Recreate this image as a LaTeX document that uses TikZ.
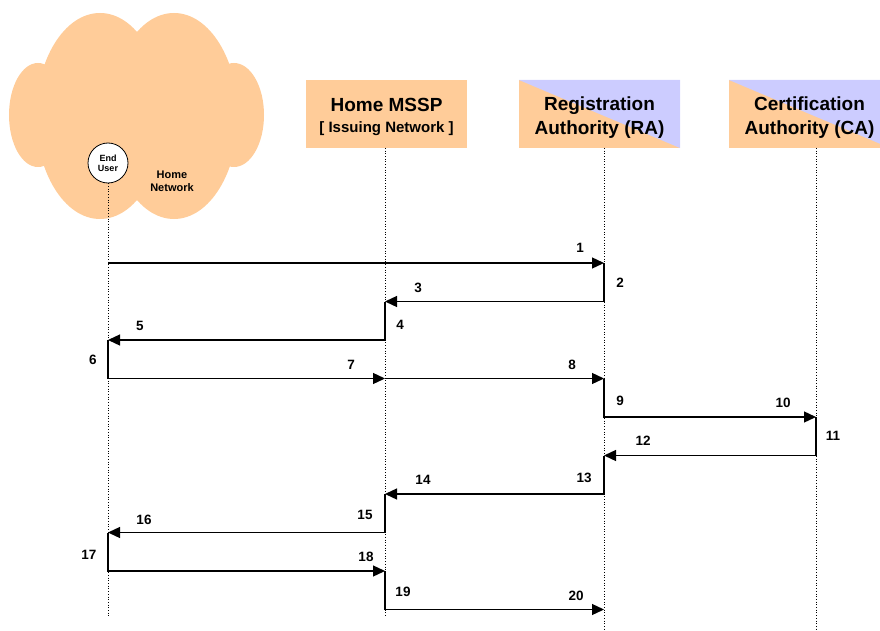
\documentclass[tikz,border=0pt]{standalone}
\usepackage{fontspec}
\setmainfont{Liberation Sans}
\usetikzlibrary{arrows.meta}
\definecolor{peach}{HTML}{FFCC99}
\definecolor{lavender}{HTML}{CCCCFF}

\begin{document}
\begin{tikzpicture}[x=1pt,y=-1pt,
  msg/.style={line width=1.3pt, line join=miter, -{Triangle[length=12pt,width=11pt]}},
  life/.style={dotted, line width=0.7pt},
  num/.style={font=\fontsize{13.5}{14}\selectfont\bfseries, inner sep=0pt},
  hdr/.style={minimum width=161pt, minimum height=68pt, inner sep=0pt},
  hdrtext/.style={align=center, inner sep=0pt, font=\fontsize{19}{24}\selectfont\bfseries},
  plainbox/.style={hdr, fill=peach},
  splitbox/.style={hdr, fill=peach,
    path picture={\fill[lavender] (path picture bounding box.north west)
      -- (path picture bounding box.north east)
      -- (path picture bounding box.south east) -- cycle;}},
]
\useasboundingbox (0,0) rectangle (880,631);

% home network cloud
\fill[peach] (100,116) ellipse [x radius=64, y radius=103];
\fill[peach] (174,116) ellipse [x radius=64, y radius=103];
\fill[peach] (38,115) ellipse [x radius=29, y radius=52];
\fill[peach] (234,115) ellipse [x radius=30, y radius=52];

\node[circle, draw, fill=white, line width=0.8pt, minimum size=40pt, inner sep=0pt,
      align=center, font=\fontsize{9}{10}\selectfont\bfseries] (eu) at (108,163) {End\\User};
\node[align=center, font=\fontsize{11}{13}\selectfont\bfseries] (hn) at (172,181) {Home\\Network};

% participants
\node[plainbox] (mssp) at (386.5,114) {};
\node[splitbox] (ra) at (599.5,114) {};
\node[splitbox] (ca) at (809.5,114) {};
\node[hdrtext] (mssp-text) at ([yshift=-3pt]mssp.center)
  {Home MSSP\\[-3pt]{\fontsize{15}{17}\selectfont [ Issuing Network ]}};
\node[hdrtext] (ra-text) at ([yshift=-3.5pt]ra.center) {Registration\\Authority (RA)};
\node[hdrtext] (ca-text) at ([yshift=-3.5pt]ca.center) {Certification\\Authority (CA)};

% lifelines
\coordinate (mssp-top) at (385,148);
\coordinate (ra-top) at (604,148);
\coordinate (ca-top) at (816,148);
\coordinate (eu-end) at (108,617);
\coordinate (mssp-end) at (385,617);
\coordinate (ra-end) at (604,630);
\coordinate (ca-end) at (816,630);
\draw[life] (eu.south) -- (eu-end);
\draw[life] (mssp-top) -- (mssp-end);
\draw[life] (ra-top) -- (ra-end);
\draw[life] (ca-top) -- (ca-end);

% message rows
\foreach \i/\y in {1/263,2/301.5,3/340,4/378.5,5/417,6/455.5,7/494,8/532.5,9/571,10/609.5}
  \coordinate (r\i) at (0,\y);

% messages
\draw[msg] (eu-end |- r1) -- (ra-end |- r1);
\draw[msg] (ra-end |- r1) -- (ra-end |- r2) -- (mssp-end |- r2);
\draw[msg] (mssp-end |- r2) -- (mssp-end |- r3) -- (eu-end |- r3);
\draw[msg] (eu-end |- r3) -- (eu-end |- r4) -- (mssp-end |- r4);
\draw[msg] (mssp-end |- r4) -- (ra-end |- r4);
\draw[msg] (ra-end |- r4) -- (ra-end |- r5) -- (ca-end |- r5);
\draw[msg] (ca-end |- r5) -- (ca-end |- r6) -- (ra-end |- r6);
\draw[msg] (ra-end |- r6) -- (ra-end |- r7) -- (mssp-end |- r7);
\draw[msg] (mssp-end |- r7) -- (mssp-end |- r8) -- (eu-end |- r8);
\draw[msg] (eu-end |- r8) -- (eu-end |- r9) -- (mssp-end |- r9);
\draw[msg] (mssp-end |- r9) -- (mssp-end |- r10) -- (ra-end |- r10);

% step numbers
\node[num] (n1) at (580,248) {1};
\node[num] (n2) at (620,283) {2};
\node[num] (n3) at (418,288) {3};
\node[num] (n4) at (400,325) {4};
\node[num] (n5) at (140,326) {5};
\node[num] (n6) at (93,360) {6};
\node[num] (n7) at (351,365) {7};
\node[num] (n8) at (572,365) {8};
\node[num] (n9) at (620,401) {9};
\node[num] (n10) at (783,403) {10};
\node[num] (n11) at (833,436) {11};
\node[num] (n12) at (643,441) {12};
\node[num] (n13) at (584,478) {13};
\node[num] (n14) at (423,480) {14};
\node[num] (n15) at (365,515) {15};
\node[num] (n16) at (144,520) {16};
\node[num] (n17) at (89,555) {17};
\node[num] (n18) at (366,557) {18};
\node[num] (n19) at (403,592) {19};
\node[num] (n20) at (576,596) {20};
\end{tikzpicture}
\end{document}
